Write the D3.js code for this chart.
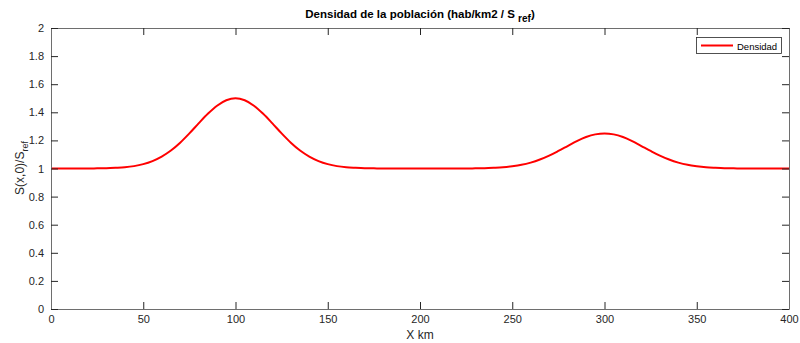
<!DOCTYPE html>
<html>
<head>
<meta charset="utf-8">
<script src="https://cdn.jsdelivr.net/npm/d3@7"></script>
<style>
body { margin: 0; background: #fff; }
svg { display: block; font-family: "Liberation Sans", Arial, Helvetica, sans-serif; }
</style>
</head>
<body>
<svg id="chart" width="800" height="343"></svg>
<script>
// Data
const xKm = [0,5,10,15,20,25,30,35,40,45,50,55,60,65,70,75,80,85,90,95,100,
  105,110,115,120,125,130,135,140,145,150,155,160,165,170,175,180,185,190,195,200,
  205,210,215,220,225,230,235,240,245,250,255,260,265,270,275,280,285,290,295,300,
  305,310,315,320,325,330,335,340,345,350,355,360,365,370,375,380,385,390,395,400];
const densidad = [1.000,1.000,1.000,1.000,1.000,1.001,1.002,1.005,1.009,1.017,1.031,1.053,1.085,1.128,1.184,1.250,1.321,1.389,1.447,1.486,1.500,
  1.486,1.447,1.389,1.321,1.250,1.184,1.128,1.085,1.053,1.031,1.017,1.009,1.005,1.002,1.001,1.000,1.000,1.000,1.000,1.000,
  1.000,1.000,1.000,1.000,1.000,1.001,1.002,1.005,1.009,1.016,1.026,1.042,1.064,1.092,1.125,1.160,1.195,1.224,1.243,1.250,
  1.243,1.224,1.195,1.160,1.125,1.092,1.064,1.042,1.026,1.016,1.009,1.005,1.002,1.001,1.000,1.000,1.000,1.000,1.000,1.000];
const xTicks = [0,50,100,150,200,250,300,350,400];
const yTicks = [0,0.2,0.4,0.6,0.8,1,1.2,1.4,1.6,1.8,2];
const seriesName = "Densidad";

const svg = d3.select("#chart");
const L = 51, R = 789, T = 28, B = 309;
const x = d3.scaleLinear().domain([0, 400]).range([L, R]);
const y = d3.scaleLinear().domain([0, 2]).range([B, T]);
const tickLen = 7;
const axisCol = "#262626";

// Curve
const line = d3.line().x((d, i) => x(xKm[i])).y(d => y(d)).curve(d3.curveCatmullRom.alpha(0.5));
svg.append("path").datum(densidad)
  .attr("d", line)
  .attr("fill", "none")
  .attr("stroke", "#ff0000")
  .attr("stroke-width", 2);

// Axes (MATLAB style, ticks inward, box on)
const fmt = d => d3.format("~g")(d);
const gB = svg.append("g").attr("transform", `translate(0,${B})`)
  .call(d3.axisBottom(x).tickValues(xTicks).tickFormat(fmt).tickSizeInner(-tickLen).tickSizeOuter(0).tickPadding(6));
const gT = svg.append("g").attr("transform", `translate(0,${T})`)
  .call(d3.axisTop(x).tickValues(xTicks).tickFormat("").tickSizeInner(-tickLen).tickSizeOuter(0));
const gL = svg.append("g").attr("transform", `translate(${L},0)`)
  .call(d3.axisLeft(y).tickValues(yTicks).tickFormat(fmt).tickSizeInner(-tickLen).tickSizeOuter(0).tickPadding(7));
const gR = svg.append("g").attr("transform", `translate(${R},0)`)
  .call(d3.axisRight(y).tickValues(yTicks).tickFormat("").tickSizeInner(-tickLen).tickSizeOuter(0));
[gB, gT, gL, gR].forEach(g => {
  g.select(".domain").attr("stroke", "#6e6e6e").attr("stroke-width", 1);
  g.selectAll(".tick line").attr("stroke", axisCol).attr("stroke-width", 1);
  g.selectAll(".tick text").attr("fill", axisCol).attr("font-size", 11)
    .attr("font-family", "Liberation Sans, Arial, sans-serif");
});

// Title
const title = svg.append("text").attr("x", 420).attr("y", 18)
  .attr("text-anchor", "middle").attr("font-size", 11.5).attr("font-weight", "bold").attr("fill", "#000");
title.append("tspan").text("Densidad de la población (hab/km2 / S ");
title.append("tspan").attr("dy", 4).attr("font-size", 10).text("ref");
title.append("tspan").attr("dy", -4).text(")");

// X label
svg.append("text").attr("x", 420).attr("y", 339).attr("text-anchor", "middle")
  .attr("font-size", 12).attr("fill", axisCol).text("X km");

// Y label
const yl = svg.append("text").attr("transform", "translate(24,168) rotate(-90)")
  .attr("text-anchor", "middle").attr("font-size", 12).attr("fill", axisCol);
yl.append("tspan").text("S(x,0)/S");
yl.append("tspan").attr("dy", 4).attr("font-size", 9).text("ref");

// Legend
const lg = svg.append("g");
lg.append("rect").attr("x", 696.5).attr("y", 37.5).attr("width", 85).attr("height", 16)
  .attr("fill", "#fff").attr("stroke", "#262626").attr("stroke-width", 0.8);
lg.append("line").attr("x1", 701).attr("x2", 733).attr("y1", 45.5).attr("y2", 45.5)
  .attr("stroke", "#ff0000").attr("stroke-width", 2);
lg.append("text").attr("x", 737).attr("y", 49.5).attr("font-size", 9.5)
  .attr("fill", "#000").text(seriesName);
</script>
</body>
</html>
